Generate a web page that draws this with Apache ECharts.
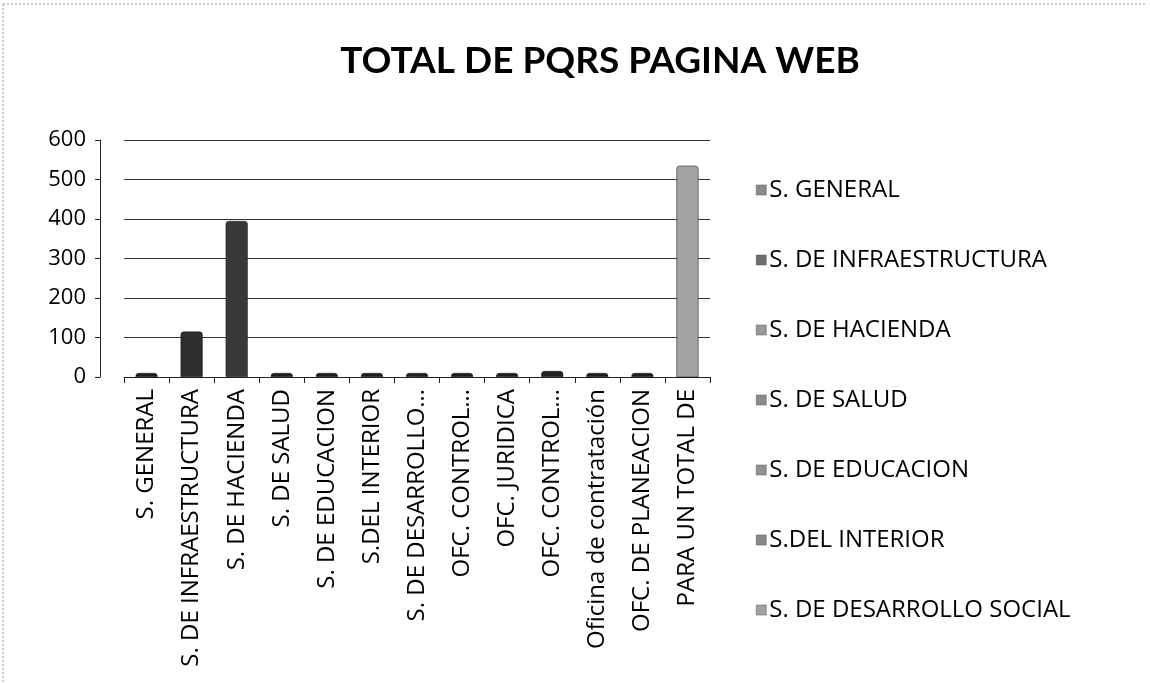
<!DOCTYPE html>
<html>
<head>
<meta charset="utf-8">
<script src="https://cdn.jsdelivr.net/npm/echarts@6/dist/echarts.min.js"></script>
<style>html,body{margin:0;padding:0;background:#fff}#c{width:1150px;height:683px}</style>
</head>
<body>
<div id="c"></div>
<script>
var categories = ["S. GENERAL","S. DE INFRAESTRUCTURA","S. DE HACIENDA","S. DE SALUD","S. DE EDUCACION","S.DEL INTERIOR","S. DE DESARROLLO…","OFC. CONTROL…","OFC. JURIDICA","OFC. CONTROL…","Oficina de contratación","OFC. DE PLANEACION","PARA UN TOTAL DE"];
var seriesNames = ["S. GENERAL","S. DE INFRAESTRUCTURA","S. DE HACIENDA","S. DE SALUD","S. DE EDUCACION","S.DEL INTERIOR","S. DE DESARROLLO SOCIAL","OFC. CONTROL INTERNO","OFC. JURIDICA","OFC. CONTROL INTERNO DISCIPLINARIO","Oficina de contratación","OFC. DE PLANEACION","PARA UN TOTAL DE"];
var values = [0,115,395,0,0,0,10,0,0,15,0,0,535];
var legendNames = ["S. GENERAL","S. DE INFRAESTRUCTURA","S. DE HACIENDA","S. DE SALUD","S. DE EDUCACION","S.DEL INTERIOR","S. DE DESARROLLO SOCIAL"];
var yTicks = [0,100,200,300,400,500,600];
var barColors = ["#1e1e1e","#2e2e2e","#383838","#1e1e1e","#1e1e1e","#1e1e1e","#222222","#1e1e1e","#1e1e1e","#222222","#1e1e1e","#1e1e1e","#a3a3a3"];
var legendColors = ["#8a8a8a","#6e6e6e","#9a9a9a","#8c8c8c","#929292","#888888","#a0a0a0"];

var FONT = "Open Sans";
var series = seriesNames.map(function(n,i){
  var d = values.map(function(v,j){ return j===i ? v : null; });
  return {
    name: n, type: 'bar', data: d, barWidth: 22, barGap: '-100%',
    barMinHeight: 4,
    itemStyle: {color: barColors[i], borderColor: '#111', borderWidth: 0.5, borderRadius: [3,3,0,0]},
    silent: true
  };
});

var chart = echarts.init(document.getElementById('c'), null, {renderer:'canvas'});
chart.setOption({
  animation: false,
  backgroundColor: '#fff',
  title: {
    text: 'TOTAL DE PQRS PAGINA WEB', left: 595, top: 38, textAlign: 'center',
    textStyle: {fontFamily: 'Lato', fontWeight: 'bold', fontSize: 37, color: '#000'}
  },
  legend: {
    data: legendNames.map(function(n,i){ return {name: n, itemStyle: {color: legendColors[i], borderColor: '#555', borderWidth: 0.5}}; }),
    orient: 'vertical', left: 751, top: 172,
    itemWidth: 10, itemHeight: 10, itemGap: 44, icon: 'rect',
    textStyle: {fontFamily: FONT, fontSize: 24, lineHeight: 26, color: '#000', padding: [0,0,0,-2]}
  },
  grid: {left: 124, right: 440, top: 140, bottom: 306, containLabel: false},
  xAxis: {
    type: 'category', data: categories,
    axisLine: {lineStyle: {color: '#222', width: 1}},
    axisTick: {show: true, lineStyle: {color: '#222'}, length: 6},
    axisLabel: {rotate: 90, interval: 0, fontFamily: FONT, fontSize: 24, color: '#000', margin: 12}
  },
  yAxis: {
    type: 'value', min: 0, max: 600, interval: 100, offset: 24,
    axisLine: {show: true, lineStyle: {color: '#222', width: 1}},
    axisTick: {show: true, lineStyle: {color: '#222'}, length: 5},
    axisLabel: {fontFamily: FONT, fontSize: 22, color: '#000', margin: 14,
      formatter: function(v){ return yTicks.indexOf(v) >= 0 ? String(v) : ''; }},
    splitLine: {show: true, lineStyle: {color: '#333', width: 1}}
  },
  graphic: [
    {type: 'line', shape: {x1: 3, y1: 4, x2: 1145, y2: 4}, style: {stroke: '#999', lineDash: [2,2], lineWidth: 1}},
    {type: 'line', shape: {x1: 3, y1: 4, x2: 3, y2: 683}, style: {stroke: '#999', lineDash: [2,2], lineWidth: 1}}
  ],
  series: series
});
</script>
</body>
</html>
